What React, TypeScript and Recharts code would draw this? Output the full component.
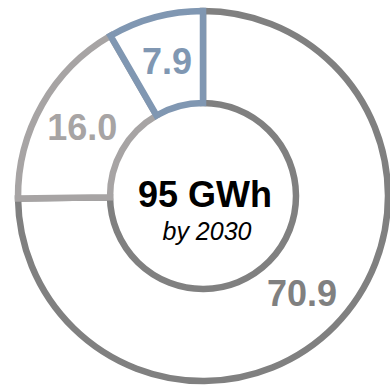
import React from "react";
import { PieChart, Pie, Cell } from "recharts";

// Segments are listed in drawing order (largest first, so the smaller
// segments' outlines sit on top at shared edges); the ring runs clockwise
// from 12 o'clock back round, which places 7.9 just left of the top.
const segmentNames = ["Segment C", "Segment B", "Segment A"];
const segmentValues = [70.9, 16.0, 7.9];
const segmentColors = ["#808080", "#a7a4a4", "#8097b2"];

const totalLabel = "95 GWh";
const subLabel = "by 2030";

const data = segmentNames.map((name, i) => ({ name, value: segmentValues[i] }));

const RADIAN = Math.PI / 180;
const FONT = "'Liberation Sans', Arial, sans-serif";

const renderLabel = (props: any) => {
  const { cx, cy, midAngle, innerRadius, outerRadius, index, value } = props;
  const r = (innerRadius + outerRadius) / 2;
  const x = cx + r * Math.cos(-midAngle * RADIAN);
  const y = cy + r * Math.sin(-midAngle * RADIAN);
  return (
    <text
      x={x}
      y={y}
      textAnchor="middle"
      dominantBaseline="central"
      fill={segmentColors[index]}
      fontFamily={FONT}
      fontWeight="bold"
      fontSize={36}
    >
      {Number(value).toFixed(1)}
    </text>
  );
};

export default function App() {
  const cx = 203;
  const cy = 196;
  return (
    <div style={{ position: "absolute", left: 0, top: 0, width: 390, height: 385, background: "#fff" }}>
      <PieChart width={390} height={385} margin={{ top: 0, right: 0, bottom: 0, left: 0 }}>
        <Pie
          data={data}
          dataKey="value"
          nameKey="name"
          cx={cx}
          cy={cy}
          innerRadius={93}
          outerRadius={185}
          startAngle={450}
          endAngle={90}
          paddingAngle={0}
          label={renderLabel}
          labelLine={false}
          isAnimationActive={false}
        >
          {data.map((d, i) => (
            <Cell key={d.name} fill="#ffffff" stroke={segmentColors[i]} strokeWidth={6.5} />
          ))}
        </Pie>
        <text
          x={205}
          y={207}
          textAnchor="middle"
          fontFamily={FONT}
          fontWeight="bold"
          fontSize={36}
          fill="#000"
        >
          {totalLabel}
        </text>
        <text
          x={207}
          y={240}
          textAnchor="middle"
          fontFamily={FONT}
          fontStyle="italic"
          fontSize={25}
          fill="#000"
        >
          {subLabel}
        </text>
      </PieChart>
    </div>
  );
}
